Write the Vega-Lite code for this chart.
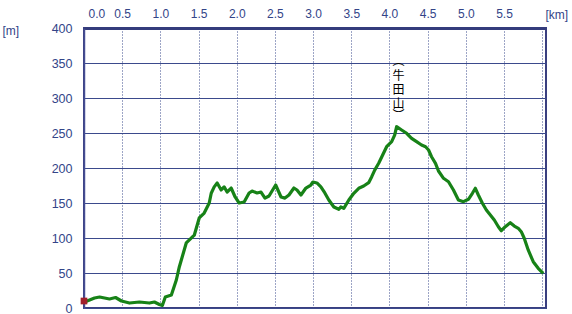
{
  "$schema": "https://vega.github.io/schema/vega-lite/v6.json",
  "width": 462,
  "height": 280,
  "autosize": {"type": "none"},
  "padding": {"left": 84, "top": 28, "right": 26, "bottom": 6},
  "background": "white",
  "config": {
    "view": {"stroke": "#3a3f80", "strokeWidth": 2},
    "axis": {
      "labelFont": "Liberation Sans",
      "labelFontSize": 12,
      "labelColor": "#334488",
      "titleFont": "Liberation Sans",
      "titleFontSize": 12,
      "titleFontWeight": "normal",
      "titleColor": "#334488",
      "ticks": false,
      "gridColor": "#3b4a8c",
      "gridOpacity": 1
    }
  },
  "datasets": {
    "profile": [
      {"km": 0.008, "elev": 8.6},
      {"km": 0.138, "elev": 14.3},
      {"km": 0.204, "elev": 15.7},
      {"km": 0.334, "elev": 12.9},
      {"km": 0.413, "elev": 15},
      {"km": 0.491, "elev": 10},
      {"km": 0.595, "elev": 7.1},
      {"km": 0.726, "elev": 8.6},
      {"km": 0.856, "elev": 7.1},
      {"km": 0.922, "elev": 8.6},
      {"km": 0.987, "elev": 5},
      {"km": 1.026, "elev": 3.6},
      {"km": 1.065, "elev": 15.7},
      {"km": 1.144, "elev": 18.6},
      {"km": 1.209, "elev": 40},
      {"km": 1.248, "elev": 58.6},
      {"km": 1.339, "elev": 92.9},
      {"km": 1.444, "elev": 104},
      {"km": 1.509, "elev": 128.6},
      {"km": 1.574, "elev": 135.7},
      {"km": 1.64, "elev": 150},
      {"km": 1.666, "elev": 164},
      {"km": 1.705, "elev": 173},
      {"km": 1.744, "elev": 178.6},
      {"km": 1.796, "elev": 168.6},
      {"km": 1.835, "elev": 173},
      {"km": 1.874, "elev": 165.7},
      {"km": 1.927, "elev": 171.4},
      {"km": 1.979, "elev": 158.6},
      {"km": 2.031, "elev": 150},
      {"km": 2.097, "elev": 151.4},
      {"km": 2.162, "elev": 164.3},
      {"km": 2.201, "elev": 167},
      {"km": 2.266, "elev": 164.3},
      {"km": 2.318, "elev": 165.7},
      {"km": 2.37, "elev": 157},
      {"km": 2.423, "elev": 160},
      {"km": 2.51, "elev": 175.7},
      {"km": 2.58, "elev": 158.6},
      {"km": 2.632, "elev": 157},
      {"km": 2.684, "elev": 161.4},
      {"km": 2.749, "elev": 171.4},
      {"km": 2.789, "elev": 168.6},
      {"km": 2.841, "elev": 161.4},
      {"km": 2.906, "elev": 171.4},
      {"km": 2.971, "elev": 175.7},
      {"km": 2.998, "elev": 180},
      {"km": 3.05, "elev": 178.6},
      {"km": 3.102, "elev": 173},
      {"km": 3.154, "elev": 164.3},
      {"km": 3.206, "elev": 154.3},
      {"km": 3.272, "elev": 144.3},
      {"km": 3.337, "elev": 141},
      {"km": 3.363, "elev": 144.3},
      {"km": 3.402, "elev": 142.4},
      {"km": 3.468, "elev": 154.3},
      {"km": 3.533, "elev": 163.9},
      {"km": 3.598, "elev": 171},
      {"km": 3.663, "elev": 174.3},
      {"km": 3.728, "elev": 179},
      {"km": 3.768, "elev": 187.6},
      {"km": 3.807, "elev": 197},
      {"km": 3.859, "elev": 206.7},
      {"km": 3.911, "elev": 218.6},
      {"km": 3.963, "elev": 230.4},
      {"km": 4.029, "elev": 237.6},
      {"km": 4.068, "elev": 247},
      {"km": 4.094, "elev": 259},
      {"km": 4.159, "elev": 254.3},
      {"km": 4.225, "elev": 249.6},
      {"km": 4.29, "elev": 242.4},
      {"km": 4.355, "elev": 237.6},
      {"km": 4.42, "elev": 232.9},
      {"km": 4.473, "elev": 230.4},
      {"km": 4.512, "elev": 225.7},
      {"km": 4.551, "elev": 216.1},
      {"km": 4.603, "elev": 206.7},
      {"km": 4.642, "elev": 195.7},
      {"km": 4.708, "elev": 185.3},
      {"km": 4.773, "elev": 180.4},
      {"km": 4.838, "elev": 168.6},
      {"km": 4.903, "elev": 154.3},
      {"km": 4.969, "elev": 151.9},
      {"km": 5.034, "elev": 155.3},
      {"km": 5.086, "elev": 163.9},
      {"km": 5.125, "elev": 171},
      {"km": 5.164, "elev": 161.4},
      {"km": 5.217, "elev": 149.6},
      {"km": 5.269, "elev": 140},
      {"km": 5.321, "elev": 132.9},
      {"km": 5.373, "elev": 125.7},
      {"km": 5.426, "elev": 116.1},
      {"km": 5.465, "elev": 110.4},
      {"km": 5.517, "elev": 116.1},
      {"km": 5.582, "elev": 121.9},
      {"km": 5.635, "elev": 117.1},
      {"km": 5.687, "elev": 113.9},
      {"km": 5.726, "elev": 109},
      {"km": 5.765, "elev": 99.6},
      {"km": 5.817, "elev": 82.9},
      {"km": 5.883, "elev": 66.1},
      {"km": 5.948, "elev": 56.7},
      {"km": 6.013, "elev": 49.6}
    ],
    "peaks": [
      {"km": 4.12, "elev": 353, "name": "︵"},
      {"km": 4.12, "elev": 332, "name": "牛"},
      {"km": 4.12, "elev": 312, "name": "田"},
      {"km": 4.12, "elev": 292, "name": "山"},
      {"km": 4.12, "elev": 275, "name": "︶"}
    ],
    "start": [
      {"km": 0.0, "elev": 10}
    ]
  },
  "encoding": {
    "x": {
      "field": "km",
      "type": "quantitative",
      "scale": {"domain": [0, 6.05], "nice": false, "zero": false},
      "axis": {
        "orient": "top",
        "values": [0, 0.5, 1, 1.5, 2, 2.5, 3, 3.5, 4, 4.5, 5, 5.5, 6],
        "format": ".1f",
        "labelExpr": "datum.value >= 6 ? '' : datum.label",
        "labelAlign": {"expr": "datum.value == 0 ? 'left' : 'center'"},
        "labelOffset": {"expr": "datum.value == 0 ? 4 : 0"},
        "labelPadding": 8,
        "labelFlush": false,
        "labelOverlap": false,
        "grid": true,
        "gridDash": [1, 2],
        "gridWidth": 1,
        "domain": true,
        "domainColor": "#343c7c",
        "domainWidth": 3,
        "title": "[km]",
        "titleAngle": 0,
        "titleAlign": "left",
        "titleBaseline": "middle",
        "titleX": 461,
        "titleY": -14
      }
    },
    "y": {
      "field": "elev",
      "type": "quantitative",
      "scale": {"domain": [0, 400], "nice": false},
      "axis": {
        "values": [0, 50, 100, 150, 200, 250, 300, 350, 400],
        "labelPadding": 12,
        "labelFontSize": 12.5,
        "labelOverlap": false,
        "grid": true,
        "gridWidth": 1,
        "domain": true,
        "domainColor": "#5058a0",
        "domainWidth": 2,
        "domainDash": [1, 1],
        "title": "[m]",
        "titleAngle": 0,
        "titleAlign": "left",
        "titleBaseline": "middle",
        "titleX": -82,
        "titleY": 2
      }
    }
  },
  "layer": [
    {
      "data": {"name": "profile"},
      "mark": {"type": "line", "color": "#178217", "strokeWidth": 3.2, "strokeJoin": "round"}
    },
    {
      "data": {"name": "peaks"},
      "mark": {"type": "text", "font": "Noto Sans CJK JP", "fontSize": 12, "color": "black", "align": "center", "baseline": "middle"},
      "encoding": {
        "text": {"field": "name"}
      }
    },
    {
      "data": {"name": "start"},
      "mark": {"type": "point", "shape": "square", "filled": true, "size": 45, "color": "#a0202a", "opacity": 1}
    }
  ]
}
